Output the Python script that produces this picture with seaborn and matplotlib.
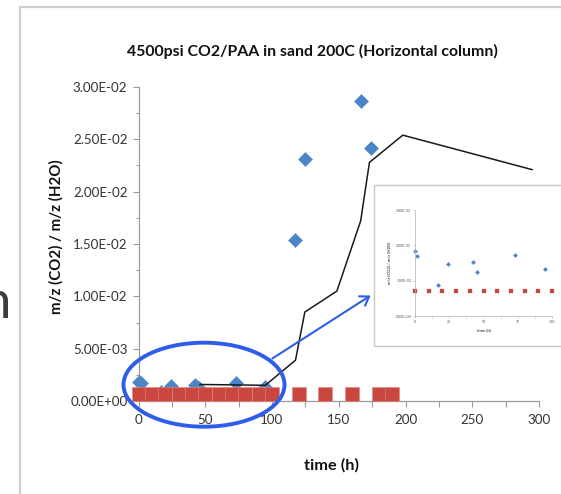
import numpy as np
import pandas as pd
import matplotlib
matplotlib.use("Agg")
import matplotlib.pyplot as plt
from matplotlib.patches import Ellipse, Rectangle
from matplotlib.ticker import FuncFormatter, MultipleLocator
import seaborn as sns

# ---------------- data ----------------
title = "4500psi CO2/PAA in sand 200C (Horizontal column)"
xlabel = "time (h)"
ylabel = "m/z (CO2) / m/z (H2O)"

co2_time = [0, 1.7, 17, 24, 42, 45, 73, 95, 117, 124.5, 166.5, 174]
co2_ratio = [1.85e-3, 1.70e-3, 0.87e-3, 1.47e-3, 1.52e-3, 1.25e-3, 1.72e-3, 1.32e-3,
             1.54e-2, 2.31e-2, 2.87e-2, 2.42e-2]

base_time = [0, 10, 20, 30, 40, 50, 60, 70, 80, 90, 100, 120, 140, 160, 180, 190]
base_ratio = [0.7e-3] * 16

trend_time = [46, 95, 117.6, 124.6, 148.6, 166.4, 173, 198, 295]
trend_ratio = [1.58e-3, 1.50e-3, 3.9e-3, 8.5e-3, 1.05e-2, 1.72e-2, 2.28e-2, 2.54e-2, 2.21e-2]

main_yticks = [0, 0.005, 0.01, 0.015, 0.02, 0.025, 0.03]
main_xticks = [0, 50, 100, 150, 200, 250, 300]
inset_yticks = [0, 0.001, 0.002, 0.003]
inset_xticks = [0, 25, 50, 75, 100]

df_co2 = pd.DataFrame({"t": co2_time, "r": co2_ratio})
df_base = pd.DataFrame({"t": base_time, "r": base_ratio})
df_trend = pd.DataFrame({"t": trend_time, "r": trend_ratio})

# ---------------- style ----------------
sns.set_theme(style="white")
plt.rcParams["font.family"] = ["Lato", "DejaVu Sans"]

W, H = 561, 494
fig = plt.figure(figsize=(W / 100, H / 100), dpi=100)
fig.patch.set_facecolor("white")

def fx(px):
    return px / W

def fy(py):
    return 1 - py / H

BLUE = "#4A86C6"
RED = "#C9473E"
AX_GRAY = "#9a9a9a"

# main axes: x 0 at px 138.5, 300 at 539; y 0 at 401, 0.03 at 87
ax = fig.add_axes([fx(138.5), fy(401), fx(539) - fx(138.5), fy(87) - fy(401)])
ax.set_facecolor("white")

sns.lineplot(data=df_trend, x="t", y="r", ax=ax, color="#1a1a1a", lw=1.1, zorder=4)
sns.scatterplot(data=df_co2, x="t", y="r", ax=ax, marker="D", s=52, color=BLUE,
                edgecolor=BLUE, linewidth=0.3, zorder=3, clip_on=False)
sns.scatterplot(data=df_base, x="t", y="r", ax=ax, marker="s", s=88, color=RED,
                edgecolor="#e08a83", linewidth=0.4, zorder=5, clip_on=False)

ax.set_xlim(0, 300)
ax.set_ylim(0, 0.03)
ax.set_xticks(main_xticks)
ax.set_yticks(main_yticks)
ax.xaxis.set_minor_locator(MultipleLocator(25))
ax.yaxis.set_minor_locator(MultipleLocator(0.0025))
ax.yaxis.set_major_formatter(FuncFormatter(lambda v, p: f"{v:.2E}"))
for s in ["top", "right"]:
    ax.spines[s].set_visible(False)
for s in ["left", "bottom"]:
    ax.spines[s].set_color(AX_GRAY)
    ax.spines[s].set_linewidth(0.9)
ax.tick_params(axis="both", which="both", direction="out", color=AX_GRAY,
               labelsize=9.6, labelcolor="#333333")
ax.tick_params(axis="y", which="major", length=4, width=0.8, left=True, pad=4)
ax.tick_params(axis="y", which="minor", length=2, width=0.7, left=True)
ax.tick_params(axis="x", which="major", length=4, width=0.8, bottom=True, pad=5)
ax.tick_params(axis="x", which="minor", length=4, width=0.8, bottom=True)
ax.set_xlabel("")
ax.set_ylabel("")

fig.text(fx(312), fy(51), title, ha="center", va="center", fontsize=11.4,
         fontweight="bold", color="#111111")
fig.text(fx(56), fy(237), ylabel, ha="center", va="center", rotation=90,
         fontsize=10.8, fontweight="bold", color="#111111")
fig.text(fx(332), fy(465), xlabel, ha="center", va="center", fontsize=11.8,
         fontweight="bold", color="#111111")

# slide frame and clipped slide text
fig.add_artist(plt.Line2D([fx(20), fx(20)], [0, fy(7.5)], color="#cfcfcf", lw=1.6))
fig.add_artist(plt.Line2D([fx(20), 1], [fy(7.5), fy(7.5)], color="#cfcfcf", lw=1.6))
fig.text(fx(11), fy(318), "n", ha="right", va="baseline", fontsize=38,
         color="#3c3c3c", family=["Lato", "DejaVu Sans"])

# ---------------- inset ----------------
fig.add_artist(Rectangle((fx(374), fy(346)), fx(562) - fx(374), fy(185) - fy(346),
                         transform=fig.transFigure, facecolor="white",
                         edgecolor="#c8c8c8", lw=1.0, zorder=6))
ins = fig.add_axes([fx(415), fy(316), fx(552) - fx(415), fy(210) - fy(316)], zorder=7)
ins.set_facecolor("white")
in_co2 = df_co2[df_co2["t"] <= 100]
in_base = df_base[df_base["t"] <= 100]
sns.scatterplot(data=in_co2, x="t", y="r", ax=ins, marker="D", s=5, color=BLUE,
                edgecolor=BLUE, linewidth=0.2, clip_on=False)
sns.scatterplot(data=in_base, x="t", y="r", ax=ins, marker="s", s=9, color=RED,
                edgecolor=RED, linewidth=0.2, clip_on=False)
ins.set_xlim(0, 100)
ins.set_ylim(0, 0.003)
ins.set_xticks(inset_xticks)
ins.set_yticks(inset_yticks)
ins.xaxis.set_minor_locator(MultipleLocator(12.5))
ins.yaxis.set_major_formatter(FuncFormatter(lambda v, p: f"{v:.2E}"))
for s in ["top", "right"]:
    ins.spines[s].set_visible(False)
for s in ["left", "bottom"]:
    ins.spines[s].set_color("#b0b0b0")
    ins.spines[s].set_linewidth(0.5)
ins.tick_params(axis="both", which="both", direction="out", color="#b0b0b0",
                labelsize=2.6, labelcolor="#555555", length=1.2, width=0.4, pad=1.5,
                left=True, bottom=True)
ins.set_xlabel(xlabel, fontsize=3, fontweight="bold", color="#444444", labelpad=3)
ins.set_ylabel(ylabel, fontsize=3, fontweight="bold", color="#444444", labelpad=3)

# ---------------- ellipse + arrow annotation ----------------
ANNO = "#2F5DEB"
fig.add_artist(Ellipse((fx(204), fy(384.7)), fx(161), 84 / H, transform=fig.transFigure,
                       fill=False, edgecolor=ANNO, lw=2.8, zorder=8))
fig.add_artist(matplotlib.patches.FancyArrowPatch(
    (fx(270), fy(360)), (fx(373), fy(294)), transform=fig.transFigure,
    arrowstyle="->,head_length=6,head_width=4", color=ANNO, lw=1.5, zorder=8))

fig.savefig("out.png", dpi=100)
